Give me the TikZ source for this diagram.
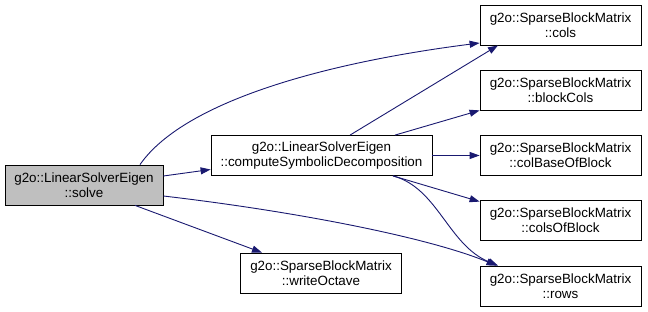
\documentclass[tikz,border=0pt]{standalone}
\usepackage{fontspec}
\setmainfont{Liberation Sans}
\usetikzlibrary{arrows.meta}
\definecolor{edgeblue}{HTML}{191970}
\definecolor{curgray}{HTML}{BFBFBF}

\begin{document}
\begin{tikzpicture}[x=1pt,y=-1pt,>={Triangle[length=10pt,width=7pt]},
  fn/.style={draw=black,line width=0.8pt,fill=white,minimum height=40pt,inner sep=0pt,
    align=center,font=\fontsize{13.4}{15}\selectfont},
  sbm/.style={fn,minimum width=161pt},
  call/.style={->,draw=edgeblue,fill=none,line width=0.9pt}]

\useasboundingbox (0,0) rectangle (648,312);

\node[fn,fill=curgray,minimum width=158pt](solve) at (84,185){g2o::LinearSolverEigen\\::solve};
\node[fn,minimum width=221pt](compute) at (321.5,155.5){g2o::LinearSolverEigen\\::computeSymbolicDecomposition};
\node[sbm](writeOctave) at (321,273){g2o::SparseBlockMatrix\\::writeOctave};
\node[sbm](cols) at (560.5,25){g2o::SparseBlockMatrix\\::cols};
\node[sbm](blockCols) at (560.5,90){g2o::SparseBlockMatrix\\::blockCols};
\node[sbm](colBaseOfBlock) at (560.5,155.5){g2o::SparseBlockMatrix\\::colBaseOfBlock};
\node[sbm](colsOfBlock) at (560.5,220){g2o::SparseBlockMatrix\\::colsOfBlock};
\node[sbm](rows) at (560.5,286){g2o::SparseBlockMatrix\\::rows};

\path[every edge/.style={call}]
  ([xshift=56pt]solve.north) edge[to path={.. controls (185,100) and (330,62) .. (\tikztotarget)}] ([yshift=-18pt]cols.west)
  ([yshift=9pt]solve.east) edge ([yshift=-14pt]compute.west)
  ([yshift=-11pt]solve.east) edge[to path={.. controls (300,212) and (430,238) .. (\tikztotarget)}] ([xshift=-64pt]rows.north)
  ([xshift=51pt]solve.south) edge ([xshift=-59pt]writeOctave.north)
  ([xshift=28.5pt]compute.north) edge ([xshift=-62.5pt]cols.south)
  ([xshift=73.5pt]compute.north) edge (blockCols.south west)
  (compute.east) edge (colBaseOfBlock.west)
  ([xshift=71.5pt]compute.south) edge ([yshift=-2pt]colsOfBlock.north west)
  ([xshift=71.5pt]compute.south) edge[to path={.. controls (438,188) and (448,245) .. (\tikztotarget)}] ([xshift=-62.5pt]rows.north);

\end{tikzpicture}
\end{document}
